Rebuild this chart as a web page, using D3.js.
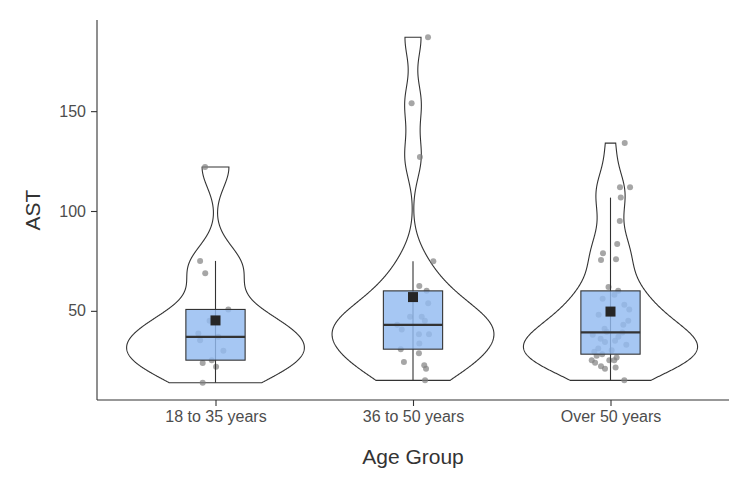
<!DOCTYPE html>
<html>
<head>
<meta charset="utf-8">
<script src="https://cdn.jsdelivr.net/npm/d3@7"></script>
<style>
  body { margin: 0; background: #fff; }
  text { font-family: "Liberation Sans", Arial, sans-serif; }
</style>
</head>
<body>
<svg id="chart" width="750" height="484"></svg>
<script>
const SVG_WIDTH = 750;
const SVG_HEIGHT = 484;
const MARGIN = { left: 97, right: 21, top: 20, bottom: 84 };

// categories
const groups = ["18 to 35 years", "36 to 50 years", "Over 50 years"];

const astYoung = [122, 75, 68.8, 50.7, 38.6, 37, 35.3, 25.3, 23.9, 22, 14, 30, 45];
const astMiddle = [187, 154, 127, 74.8, 62.4, 60, 53.8, 47, 47, 40.6, 38.3, 38.3,
  33.6, 30.8, 28.7, 24.4, 22.8, 21, 15.2, 43, 45];
const astOld = [134, 111.9, 111.9, 106.7, 95, 83.5, 78.8, 75.4, 75.8, 62, 60, 50.7,
  43, 39.5, 35, 34.4, 31.1, 30.3, 29.5, 28.3, 25.3, 24, 25.3, 25.3, 26.6, 22.2, 21,
  21.6, 15.2, 27.5, 33, 36, 37, 38, 39.2, 41, 45, 48, 53, 56, 58];

// horizontal jitter of each point, in category units
const jitterYoung = [-0.053, -0.078, -0.052, 0.065, -0.087, 0.014, -0.078, -0.019,
  -0.065, 0.003, -0.065, 0.04, -0.03];
const jitterMiddle = [0.076, -0.007, 0.035, 0.103, 0.032, 0.069, 0.077, -0.015, 0.044,
  -0.057, 0.03, 0.081, 0.032, -0.062, 0.03, -0.046, 0.057, 0.066, 0.061, -0.08, 0.06];
const jitterOld = [0.072, 0.048, 0.099, 0.052, 0.047, 0.034, -0.038, -0.048, 0.028,
  -0.01, 0.039, 0.095, 0.065, -0.019, 0.023, -0.028, -0.062, 0.006, -0.082, -0.042,
  -0.095, -0.078, -0.006, 0.019, 0.031, -0.048, -0.028, 0.026, 0.07,
  -0.07, 0.08, -0.05, 0.04, -0.09, 0.06, -0.03, 0.09, -0.06, 0.07, -0.04, 0.02];

const yTicks = [50, 100, 150];

const values = [astYoung, astMiddle, astOld];
const jitters = [jitterYoung, jitterMiddle, jitterOld];

// box plot summaries (R type-7 quantiles, 1.5 IQR whiskers)
const stats = values.map(arr => {
  const s = arr.slice().sort(d3.ascending);
  const q1 = d3.quantileSorted(s, 0.25);
  const med = d3.quantileSorted(s, 0.5);
  const q3 = d3.quantileSorted(s, 0.75);
  const iqr = q3 - q1;
  return {
    q1, med, q3,
    lo: d3.min(s.filter(v => v >= q1 - 1.5 * iqr)),
    hi: d3.max(s.filter(v => v <= q3 + 1.5 * iqr)),
    mean: d3.mean(s)
  };
});

const svg = d3.select("#chart");

const allValues = values.flat();
const [lo, hi] = d3.extent(allValues);
const pad = (hi - lo) * 0.05;

const x = d3.scalePoint()
  .domain(groups)
  .range([MARGIN.left, SVG_WIDTH - MARGIN.right])
  .padding(0.6);
const step = x.step();

const y = d3.scaleLinear()
  .domain([lo - pad, hi + pad])
  .range([SVG_HEIGHT - MARGIN.bottom, MARGIN.top]);

// gaussian kernel density, bandwidth like R's nrd0, trimmed to data range
function densityOf(arr) {
  const sorted = arr.slice().sort(d3.ascending);
  const n = sorted.length;
  const sd = d3.deviation(sorted);
  const iqr = d3.quantileSorted(sorted, 0.75) - d3.quantileSorted(sorted, 0.25);
  const bw = 0.9 * Math.min(sd, iqr / 1.34) * Math.pow(n, -0.2);
  const grid = d3.range(512).map(i => sorted[0] + (sorted[n - 1] - sorted[0]) * i / 511);
  return grid.map(v => {
    const s = d3.sum(sorted, d => Math.exp(-0.5 * ((v - d) / bw) ** 2));
    return { v, dens: s / (n * bw * Math.sqrt(2 * Math.PI)) };
  });
}

const densities = values.map(densityOf);
const maxDens = d3.max(densities.flat(), d => d.dens);
const halfWidth = d3.scaleLinear().domain([0, maxDens]).range([0, 0.45 * step]);

// violins
svg.append("g")
  .selectAll("path")
  .data(groups)
  .join("path")
  .attr("fill", "#fff")
  .attr("stroke", "#333")
  .attr("stroke-width", 1.1)
  .attr("d", (g, i) => {
    const cx = x(g);
    const dens = densities[i];
    const left = dens.map(d => [cx - halfWidth(d.dens), y(d.v)]);
    const right = dens.slice().reverse().map(d => [cx + halfWidth(d.dens), y(d.v)]);
    return d3.line()(left.concat(right)) + "Z";
  });

// jittered points
const pointData = groups.flatMap((g, i) =>
  values[i].map((v, j) => ({ g, v, jit: jitters[i][j] })));

svg.append("g")
  .selectAll("circle")
  .data(pointData)
  .join("circle")
  .attr("cx", d => x(d.g) + d.jit * step)
  .attr("cy", d => y(d.v))
  .attr("r", 3)
  .attr("fill", "#808080")
  .attr("fill-opacity", 0.7);

// box plots
const boxW = 0.3 * step;
const boxes = svg.append("g");

boxes.selectAll("line.whisker")
  .data(groups)
  .join("line")
  .attr("x1", g => x(g)).attr("x2", g => x(g))
  .attr("y1", (g, i) => y(stats[i].lo)).attr("y2", (g, i) => y(stats[i].hi))
  .attr("stroke", "#333").attr("stroke-width", 1.1);

boxes.selectAll("rect.box")
  .data(groups)
  .join("rect")
  .attr("x", g => x(g) - boxW / 2)
  .attr("width", boxW)
  .attr("y", (g, i) => y(stats[i].q3))
  .attr("height", (g, i) => y(stats[i].q1) - y(stats[i].q3))
  .attr("fill", "#93bbf0")
  .attr("fill-opacity", 0.82)
  .attr("stroke", "#333")
  .attr("stroke-width", 1.1);

boxes.selectAll("line.median")
  .data(groups)
  .join("line")
  .attr("x1", g => x(g) - boxW / 2).attr("x2", g => x(g) + boxW / 2)
  .attr("y1", (g, i) => y(stats[i].med)).attr("y2", (g, i) => y(stats[i].med))
  .attr("stroke", "#333").attr("stroke-width", 2.2);

// means
svg.append("g")
  .selectAll("rect")
  .data(groups)
  .join("rect")
  .attr("x", g => x(g) - 5)
  .attr("y", (g, i) => y(stats[i].mean) - 5)
  .attr("width", 10)
  .attr("height", 10)
  .attr("fill", "#262626");

// axes
const xAxis = svg.append("g")
  .attr("transform", `translate(0, ${SVG_HEIGHT - MARGIN.bottom})`)
  .call(d3.axisBottom(x).tickSize(6).tickSizeOuter(0).tickPadding(5));

const yAxis = svg.append("g")
  .attr("transform", `translate(${MARGIN.left}, 0)`)
  .call(d3.axisLeft(y).tickValues(yTicks).tickSize(6).tickSizeOuter(0).tickPadding(5));

xAxis.select(".domain").attr("d", `M${MARGIN.left},0H${SVG_WIDTH - MARGIN.right}`);
yAxis.select(".domain").attr("d", `M0,${MARGIN.top}V${SVG_HEIGHT - MARGIN.bottom}`);

[xAxis, yAxis].forEach(a => {
  a.select(".domain").attr("stroke", "#333").attr("stroke-width", 1.1);
  a.selectAll(".tick line").attr("stroke", "#333").attr("stroke-width", 1.1);
  a.selectAll(".tick text")
    .attr("fill", "#4d4d4d")
    .style("font-size", "16px")
    .style("font-family", "'Liberation Sans', Arial, sans-serif");
});

svg.append("text")
  .attr("x", (MARGIN.left + SVG_WIDTH - MARGIN.right) / 2)
  .attr("y", 464)
  .attr("text-anchor", "middle")
  .attr("fill", "#333")
  .style("font-size", "21px")
  .text("Age Group");

svg.append("text")
  .attr("transform", `translate(40, ${(MARGIN.top + SVG_HEIGHT - MARGIN.bottom) / 2}) rotate(-90)`)
  .attr("text-anchor", "middle")
  .attr("fill", "#333")
  .style("font-size", "21px")
  .text("AST");
</script>
</body>
</html>
